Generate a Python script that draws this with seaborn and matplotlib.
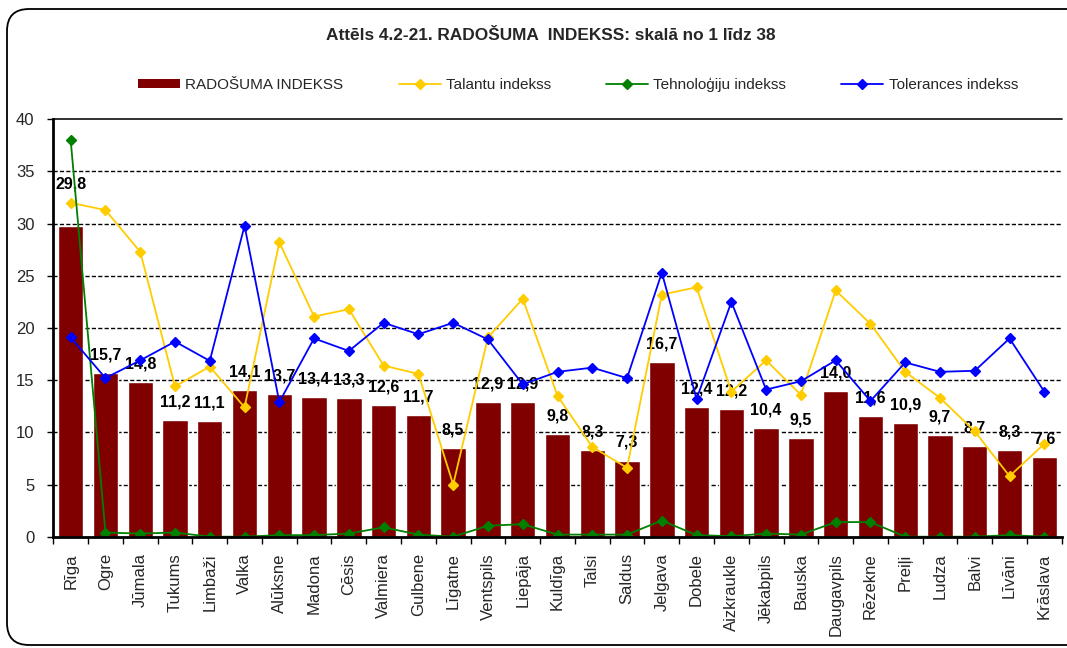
import matplotlib
matplotlib.use("Agg")
import matplotlib.pyplot as plt
from matplotlib.patches import FancyBboxPatch, Patch
from matplotlib.lines import Line2D
import numpy as np
import pandas as pd
import seaborn as sns

# Municipalities
cities = ["Rīga", "Ogre", "Jūmala", "Tukums", "Limbaži", "Valka", "Alūksne", "Madona",
          "Cēsis", "Valmiera", "Gulbene", "Līgatne", "Ventspils", "Liepāja", "Kuldīga",
          "Talsi", "Saldus", "Jelgava", "Dobele", "Aizkraukle", "Jēkabpils", "Bauska",
          "Daugavpils", "Rēzekne", "Preiļi", "Ludza", "Balvi", "Līvāni", "Krāslava"]

# Creativity index (bars)
radosuma = [29.8, 15.7, 14.8, 11.2, 11.1, 14.1, 13.7, 13.4, 13.3, 12.6, 11.7, 8.5, 12.9, 12.9,
            9.8, 8.3, 7.3, 16.7, 12.4, 12.2, 10.4, 9.5, 14.0, 11.6, 10.9, 9.7, 8.7, 8.3, 7.6]

# Talent index
talantu = [32.0, 31.3, 27.3, 14.4, 16.3, 12.4, 28.2, 21.1, 21.8, 16.4, 15.6, 5.0, 19.1, 22.8,
           13.5, 8.6, 6.6, 23.2, 23.9, 13.9, 16.9, 13.6, 23.6, 20.4, 15.8, 13.3, 10.1, 5.8, 8.9]

# Technology index
tehnologiju = [38.0, 0.4, 0.3, 0.4, 0.0, 0.0, 0.15, 0.15, 0.3, 0.9, 0.2, 0.0, 1.05, 1.2,
               0.2, 0.2, 0.2, 1.55, 0.15, 0.05, 0.3, 0.2, 1.4, 1.4, 0.0, 0.0, 0.0, 0.15, 0.0]

# Tolerance index
tolerances = [19.1, 15.2, 16.9, 18.7, 16.85, 29.8, 12.9, 19.0, 17.8, 20.5, 19.4, 20.5, 18.9, 14.6,
              15.8, 16.2, 15.2, 25.3, 13.2, 22.5, 14.1, 14.9, 16.9, 13.0, 16.7, 15.8, 15.9, 19.0, 13.9]

title = "Attēls 4.2-21. RADOŠUMA  INDEKSS: skalā no 1 līdz 38"
series_names = ["RADOŠUMA INDEKSS", "Talantu indekss", "Tehnoloģiju indekss", "Tolerances indekss"]
yticks = [0, 5, 10, 15, 20, 25, 30, 35, 40]

df = pd.DataFrame({
    "city": cities,
    "radosuma": radosuma,
    "talantu": talantu,
    "tehnologiju": tehnologiju,
    "tolerances": tolerances,
})

BAR = "#800000"
YELLOW = "#FFCC00"
GREEN = "#008000"
BLUE = "#0000FF"
FONT = ["Liberation Sans", "DejaVu Sans"]

sns.set_theme(style="white")
plt.rcParams["font.family"] = FONT

W, H = 1067, 648
fig = plt.figure(figsize=(W / 100, H / 100), dpi=100)
fig.patch.set_facecolor("white")

# rounded chart frame
frame = FancyBboxPatch((7, 3), 1100, 636, boxstyle="round,pad=0,rounding_size=22",
                       transform=None, facecolor="none", edgecolor="black", linewidth=1.3)
fig.add_artist(frame)

left, right, top, bottom = 53.3, 1061.7, 119.3, 536.7
ax = fig.add_axes([left / W, 1 - bottom / H, (right - left) / W, (bottom - top) / H])
ax.set_facecolor("white")

sns.barplot(data=df, x="city", y="radosuma", color=BAR, saturation=1, width=0.73,
            ax=ax, zorder=2)

line_series = [("talantu", YELLOW), ("tehnologiju", GREEN), ("tolerances", BLUE)]
for col, colr in line_series:
    sns.pointplot(data=df, x="city", y=col, color=colr, markers="D", markersize=5.5,
                  linewidth=1.3, errorbar=None, ax=ax, zorder=4)

# value labels above bars
for i, v in enumerate(radosuma):
    off = 30 if i == 0 else 13
    ax.annotate(f"{v:.1f}".replace(".", ","), xy=(i, v), xytext=(0, off),
                textcoords="offset points", ha="center", va="center",
                fontsize=11.5, fontweight="bold", color="black", zorder=3)

ax.set_xlim(-0.5, len(cities) - 0.5)
ax.set_ylim(0, 40)
ax.set_yticks(yticks)
ax.set_yticklabels([str(t) for t in yticks], fontsize=12)
ax.set_xticks(range(len(cities)))
ax.set_xticklabels(cities, rotation=90, fontsize=12)
ax.set_xticks(np.arange(-0.5, len(cities), 1.0), minor=True)
ax.tick_params(axis="x", which="major", length=0, pad=12)
ax.tick_params(axis="x", which="minor", length=5, width=1, color="black", direction="out", bottom=True)
ax.tick_params(axis="y", length=4.5, width=1, color="black", direction="out", left=True, pad=9)
ax.set_xlabel("")
ax.set_ylabel("")

for y in yticks[1:-1]:
    ax.axhline(y, color="black", linestyle=(0, (3, 1.6)), linewidth=1.0, zorder=1)
ax.axhline(yticks[-1], color="#202020", linewidth=1.3, zorder=1, clip_on=False)

for s in ["top", "right"]:
    ax.spines[s].set_visible(False)
for s in ["left", "bottom"]:
    ax.spines[s].set_visible(True)
    ax.spines[s].set_color("black")
    ax.spines[s].set_linewidth(2.0)
    ax.spines[s].set_zorder(5)

fig.text(551 / W, 1 - 35 / H, title, ha="center", va="center", fontsize=12.4,
         fontweight="bold")

handles = [Patch(facecolor=BAR, edgecolor="none")]
for _, colr in line_series:
    handles.append(Line2D([0], [0], color=colr, marker="D", markersize=5.5, linewidth=1.3))
leg = fig.legend(handles, series_names, loc="center", bbox_to_anchor=(578 / W, 1 - 85 / H),
                 ncol=4, frameon=False, handlelength=2.75, handleheight=0.55, handletextpad=0.35,
                 columnspacing=3.6, prop={"size": 11})

fig.savefig("out.png", dpi=100, facecolor="white")
